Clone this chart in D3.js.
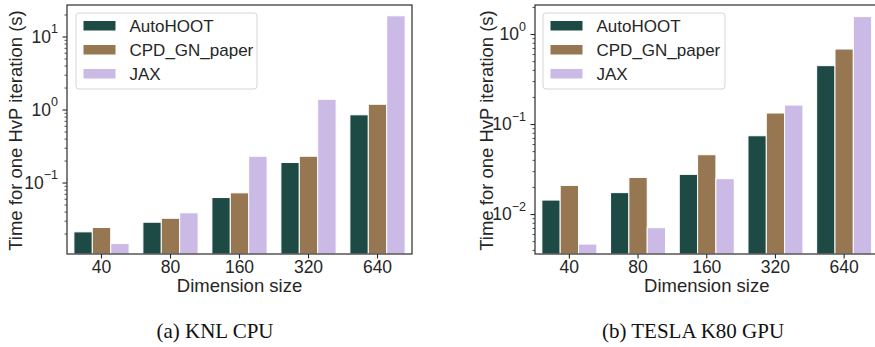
<!DOCTYPE html>
<html>
<head>
<meta charset="utf-8">
<script src="https://cdn.jsdelivr.net/npm/d3@7"></script>
<style>
  body { margin: 0; background: #fff; }
  svg { display: block; font-family: "Liberation Sans", Arial, sans-serif; }
  .caption { font-family: "Liberation Serif", "Times New Roman", serif; }
</style>
</head>
<body>
<div id="chart"></div>
<script>
// dimension sizes on the x axis
var categories = ["40", "80", "160", "320", "640"];
var seriesNames = ["AutoHOOT", "CPD_GN_paper", "JAX"];
var seriesColors = ["#1e4a45", "#967751", "#cbbae6"];

// (a) KNL CPU, seconds per HvP iteration
var knlAutoHOOT = [0.0211, 0.0286, 0.0623, 0.188, 0.846];
var knlCpdPaper = [0.0242, 0.0324, 0.0722, 0.229, 1.18];
var knlJax = [0.0146, 0.0385, 0.229, 1.38, 19.2];

// (b) TESLA K80 GPU
var gpuAutoHOOT = [0.0143, 0.0173, 0.0276, 0.0741, 0.445];
var gpuCpdPaper = [0.0208, 0.0255, 0.0456, 0.1325, 0.681];
var gpuJax = [0.00464, 0.00705, 0.0247, 0.1626, 1.56];

var knlTicks = [0.1, 1, 10];
var gpuTicks = [0.01, 0.1, 1];

var W = 875, H = 347;
var textColor = "#262626";

var svg = d3.select("#chart").append("svg")
    .attr("width", W)
    .attr("height", H);

function minorTicks(domain) {
    var out = [];
    var lo = Math.floor(Math.log10(domain[0])), hi = Math.ceil(Math.log10(domain[1]));
    for (var e = lo; e <= hi; e++) {
        for (var m = 2; m <= 9; m++) {
            var v = m * Math.pow(10, e);
            if (v >= domain[0] && v <= domain[1]) out.push(v);
        }
    }
    return out;
}

function drawPanel(opt) {
    var g = svg.append("g");
    var rows = [opt.auto, opt.cpd, opt.jax];

    var x = d3.scaleBand()
        .domain(categories)
        .range([opt.left, opt.right])
        .paddingInner(0.2)
        .paddingOuter(0.1);

    var xs = d3.scaleBand()
        .domain(seriesNames)
        .range([0, x.bandwidth()]);

    var y = d3.scaleLog()
        .domain(opt.yDomain)
        .range([opt.bottom, opt.top]);

    // bars
    seriesNames.forEach(function (name, si) {
        g.append("g").selectAll("rect")
            .data(rows[si])
            .enter()
            .append("rect")
            .attr("x", function (d, i) { return x(categories[i]) + xs(name); })
            .attr("y", function (d) { return y(d); })
            .attr("width", xs.bandwidth())
            .attr("height", function (d) { return opt.bottom - y(d); })
            .attr("fill", seriesColors[si])
            .attr("stroke", "#fff")
            .attr("stroke-width", 1);
    });

    // x axis
    var xAxis = g.append("g")
        .attr("transform", "translate(0," + opt.bottom + ")")
        .call(d3.axisBottom(x).tickSize(4.5).tickPadding(2));
    xAxis.select(".domain").remove();
    xAxis.selectAll("line").attr("stroke", textColor).attr("stroke-width", 1.1);
    xAxis.selectAll("text")
        .attr("fill", textColor)
        .attr("font-size", 17.5);

    // y axis, minor ticks first
    var yMinor = g.append("g")
        .attr("transform", "translate(" + opt.left + ",0)")
        .call(d3.axisLeft(y).tickValues(minorTicks(opt.yDomain)).tickSize(2.5).tickFormat(""));
    yMinor.select(".domain").remove();
    yMinor.selectAll("line").attr("stroke", textColor).attr("stroke-width", 0.8);

    var yMajor = g.append("g")
        .attr("transform", "translate(" + opt.left + ",0)")
        .call(d3.axisLeft(y).tickValues(opt.yTicks).tickSize(4.5).tickPadding(4).tickFormat(""));
    yMajor.select(".domain").remove();
    yMajor.selectAll("line").attr("stroke", textColor).attr("stroke-width", 1.1);
    yMajor.selectAll(".tick").append("text")
        .attr("x", -9)
        .attr("dy", "0.32em")
        .attr("text-anchor", "end")
        .attr("fill", textColor)
        .attr("font-size", 17.5)
        .each(function (d) {
            var t = d3.select(this);
            var e = Math.round(Math.log10(d));
            t.append("tspan").text("10");
            t.append("tspan")
                .attr("font-size", 12.5)
                .attr("dy", "-0.75em")
                .text(String(e).replace("-", "\u2212"));
        });

    // axes frame
    g.append("rect")
        .attr("x", opt.left)
        .attr("y", opt.top)
        .attr("width", opt.right - opt.left)
        .attr("height", opt.bottom - opt.top)
        .attr("fill", "none")
        .attr("stroke", "#333")
        .attr("stroke-width", 1.25);

    // axis labels
    g.append("text")
        .attr("x", (opt.left + opt.right) / 2)
        .attr("y", 292)
        .attr("text-anchor", "middle")
        .attr("fill", textColor)
        .attr("font-size", 18.5)
        .text("Dimension size");

    g.append("text")
        .attr("transform", "translate(" + opt.yLabelX + "," + ((opt.top + opt.bottom) / 2 + 1) + ") rotate(-90)")
        .attr("text-anchor", "middle")
        .attr("fill", textColor)
        .attr("font-size", 18.5)
        .text("Time for one HvP iteration (s)");

    // legend
    var lg = g.append("g").attr("transform", "translate(" + opt.legendX + ",13)");
    lg.append("rect")
        .attr("width", opt.legendW)
        .attr("height", 76)
        .attr("rx", 3)
        .attr("fill", "#fff")
        .attr("fill-opacity", 0.8)
        .attr("stroke", "#d6d6d6")
        .attr("stroke-width", 1);
    seriesNames.forEach(function (name, i) {
        lg.append("rect")
            .attr("x", 7.5)
            .attr("y", 8 + i * 24)
            .attr("width", 32)
            .attr("height", 9.5)
            .attr("fill", seriesColors[i]);
        lg.append("text")
            .attr("x", 53.5)
            .attr("y", 13 + i * 24)
            .attr("dy", "0.35em")
            .attr("fill", textColor)
            .attr("font-size", 17)
            .text(name);
    });

    // caption
    svg.append("text")
        .attr("class", "caption")
        .attr("x", opt.captionX)
        .attr("y", 338)
        .attr("text-anchor", "middle")
        .attr("fill", "#111")
        .attr("font-size", 21)
        .text(opt.caption);
}

drawPanel({
    auto: knlAutoHOOT, cpd: knlCpdPaper, jax: knlJax,
    left: 67, right: 412, top: 5, bottom: 254,
    yDomain: [0.0105, 27], yTicks: knlTicks,
    yLabelX: 22, legendX: 76, legendW: 181,
    captionX: 215, caption: "(a) KNL CPU"
});

drawPanel({
    auto: gpuAutoHOOT, cpd: gpuCpdPaper, jax: gpuJax,
    left: 535, right: 878.5, top: 5, bottom: 254,
    yDomain: [0.0036, 2.1], yTicks: gpuTicks,
    yLabelX: 493, legendX: 543, legendW: 182,
    captionX: 693, caption: "(b) TESLA K80 GPU"
});
</script>
</body>
</html>
